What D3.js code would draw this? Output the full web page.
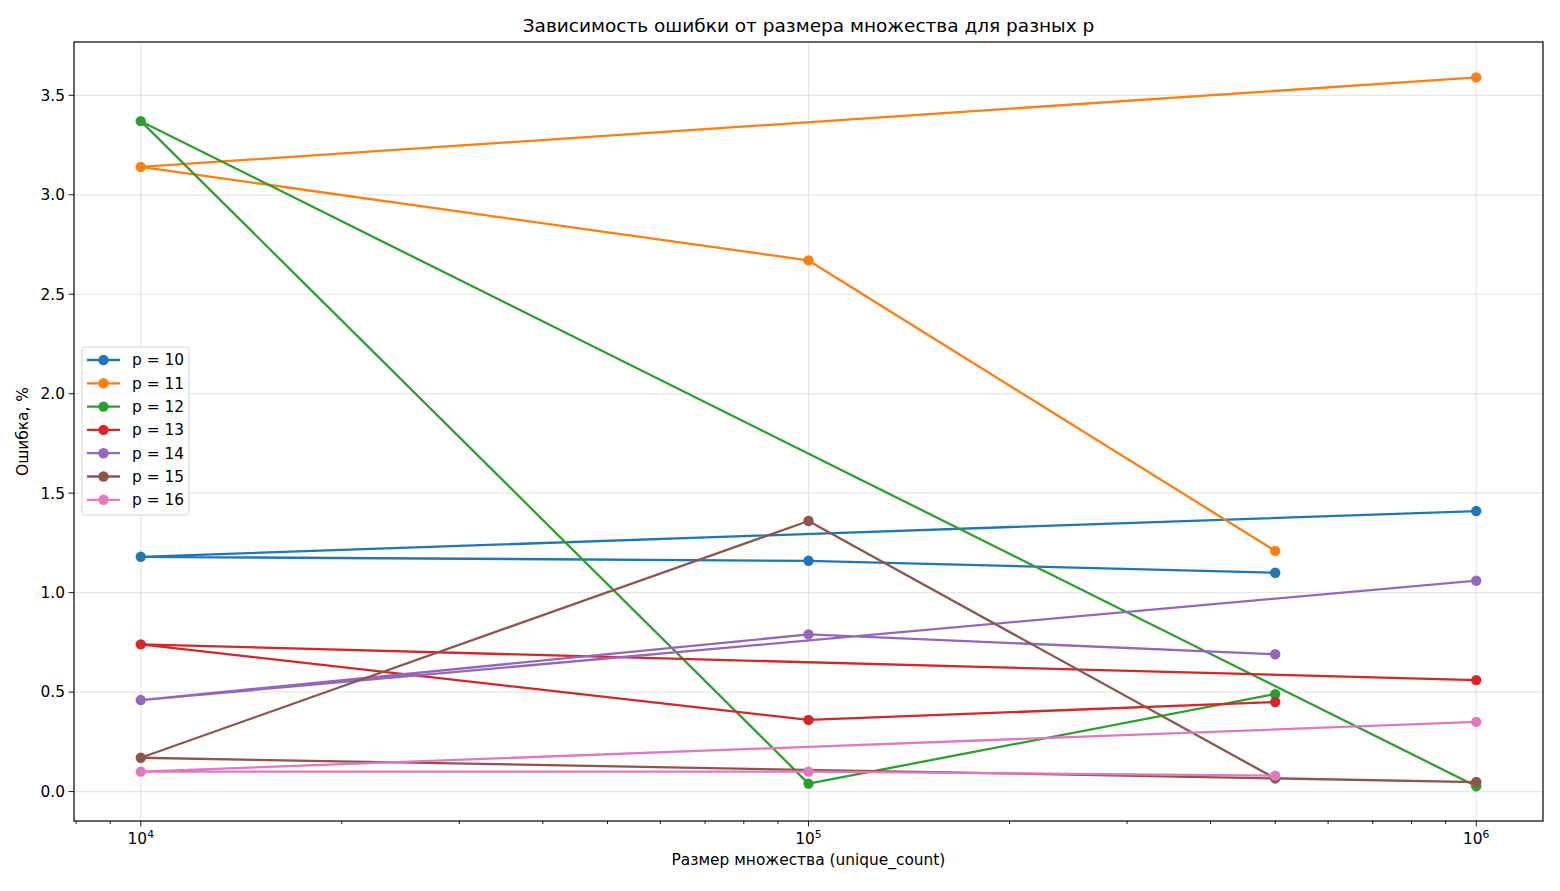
<!DOCTYPE html>
<html>
<head>
<meta charset="utf-8">
<script src="https://cdn.jsdelivr.net/npm/d3@7"></script>
<style>
  body { margin: 0; background: #fff; }
  text { font-family: "DejaVu Sans", sans-serif; fill: #000; }
</style>
</head>
<body>
<script>
'use strict';

// sizes in the order they were measured
var sizes = [1e6, 1e4, 1e5, 5e5];
var pValues = [10, 11, 12, 13, 14, 15, 16];
var errP10 = [1.41, 1.18, 1.16, 1.10];
var errP11 = [3.59, 3.14, 2.67, 1.21];
var errP12 = [0.027, 3.37, 0.04, 0.49];
var errP13 = [0.56, 0.74, 0.36, 0.45];
var errP14 = [1.06, 0.46, 0.79, 0.69];
var errP15 = [0.048, 0.17, 1.36, 0.066];
var errP16 = [0.35, 0.10, 0.10, 0.08];
var colors = ['#1f77b4', '#ff7f0e', '#2ca02c', '#d62728', '#9467bd', '#8c564b', '#e377c2'];
var yTicks = [0, 0.5, 1, 1.5, 2, 2.5, 3, 3.5];

var series = [errP10, errP11, errP12, errP13, errP14, errP15, errP16].map(function (vals, i) {
    return {
        p: pValues[i],
        color: colors[i],
        points: vals.map(function (v, j) { return { x: sizes[j], y: v }; })
    };
});

var width = 1560;
var height = 891;
var margin = { left: 74, right: 17, top: 42, bottom: 70 };
var fs = 15.4;
var lw = 2.3;
var mr = 5.2;

var svg = d3.select('body')
    .append('svg')
    .attr('width', width)
    .attr('height', height)
    ;

var x = d3.scaleLog()
    .domain([Math.pow(10, 3.9), Math.pow(10, 6.1)])
    .range([margin.left, width - margin.right])
    ;

var y = d3.scaleLinear()
    .domain([-0.148, 3.768])
    .range([height - margin.bottom, margin.top])
    ;

var plotW = width - margin.left - margin.right;
var plotH = height - margin.top - margin.bottom;

// grid
var majorX = [1e4, 1e5, 1e6];
svg.append('g').selectAll('line')
    .data(majorX)
    .enter().append('line')
    .attr('x1', x).attr('x2', x)
    .attr('y1', margin.top).attr('y2', height - margin.bottom)
    .attr('stroke', '#b0b0b0').attr('stroke-opacity', 0.3).attr('stroke-width', 1.2)
    ;
svg.append('g').selectAll('line')
    .data(yTicks)
    .enter().append('line')
    .attr('y1', y).attr('y2', y)
    .attr('x1', margin.left).attr('x2', width - margin.right)
    .attr('stroke', '#b0b0b0').attr('stroke-opacity', 0.3).attr('stroke-width', 1.2)
    ;

// series
var line = d3.line()
    .x(function (d) { return x(d.x); })
    .y(function (d) { return y(d.y); })
    ;

series.forEach(function (s) {
    var g = svg.append('g');
    g.append('path')
        .datum(s.points)
        .attr('d', line)
        .attr('fill', 'none')
        .attr('stroke', s.color)
        .attr('stroke-width', lw)
        .attr('stroke-linejoin', 'round')
        .attr('stroke-linecap', 'square')
        ;
    g.selectAll('circle')
        .data(s.points)
        .enter().append('circle')
        .attr('cx', function (d) { return x(d.x); })
        .attr('cy', function (d) { return y(d.y); })
        .attr('r', mr)
        .attr('fill', s.color)
        ;
});

// axes
var minorX = [];
[1e3, 1e4, 1e5, 1e6].forEach(function (b) {
    for (var k = 2; k <= 9; k++) {
        var v = b * k;
        if (v > x.domain()[0] && v < x.domain()[1]) minorX.push(v);
    }
});

var xAxis = svg.append('g')
    .attr('transform', 'translate(0,' + (height - margin.bottom) + ')')
    ;
xAxis.selectAll('line.minor')
    .data(minorX)
    .enter().append('line')
    .attr('class', 'minor')
    .attr('x1', x).attr('x2', x)
    .attr('y1', 0).attr('y2', 3.1)
    .attr('stroke', '#000').attr('stroke-width', 0.9)
    ;
xAxis.selectAll('line.major')
    .data(majorX)
    .enter().append('line')
    .attr('class', 'major')
    .attr('x1', x).attr('x2', x)
    .attr('y1', 0).attr('y2', 5.4)
    .attr('stroke', '#000').attr('stroke-width', 0.9)
    ;
var xl = xAxis.selectAll('text')
    .data(majorX)
    .enter().append('text')
    .attr('x', function (d) { return x(d); })
    .attr('y', 23)
    .attr('text-anchor', 'middle')
    .style('font-size', fs + 'px')
    ;
xl.append('tspan').text('10');
xl.append('tspan')
    .attr('dy', -6.5)
    .style('font-size', (fs * 0.7) + 'px')
    .text(function (d) { return Math.round(Math.log10(d)); })
    ;

var yAxis = svg.append('g')
    .attr('transform', 'translate(' + margin.left + ',0)')
    ;
yAxis.selectAll('line')
    .data(yTicks)
    .enter().append('line')
    .attr('x1', -5.4).attr('x2', 0)
    .attr('y1', y).attr('y2', y)
    .attr('stroke', '#000').attr('stroke-width', 0.9)
    ;
yAxis.selectAll('text')
    .data(yTicks)
    .enter().append('text')
    .attr('x', -9)
    .attr('y', y)
    .attr('dy', '0.35em')
    .attr('text-anchor', 'end')
    .style('font-size', fs + 'px')
    .text(d3.format('.1f'))
    ;

// frame
svg.append('rect')
    .attr('x', margin.left)
    .attr('y', margin.top)
    .attr('width', plotW)
    .attr('height', plotH)
    .attr('fill', 'none')
    .attr('stroke', '#000')
    .attr('stroke-width', 1.2)
    ;

// title & labels
svg.append('text')
    .attr('x', margin.left + plotW / 2)
    .attr('y', 32)
    .attr('text-anchor', 'middle')
    .style('font-size', '18.5px')
    .text('Зависимость ошибки от размера множества для разных p')
    ;
svg.append('text')
    .attr('x', margin.left + plotW / 2)
    .attr('y', 865)
    .attr('text-anchor', 'middle')
    .style('font-size', fs + 'px')
    .text('Размер множества (unique_count)')
    ;
svg.append('text')
    .attr('transform', 'translate(28,' + (margin.top + plotH / 2) + ') rotate(-90)')
    .attr('text-anchor', 'middle')
    .style('font-size', fs + 'px')
    .text('Ошибка, %')
    ;

// legend
var legend = svg.append('g')
    .attr('transform', 'translate(82,347)')
    ;
legend.append('rect')
    .attr('width', 107)
    .attr('height', 168)
    .attr('rx', 3)
    .attr('fill', '#fff')
    .attr('fill-opacity', 0.8)
    .attr('stroke', '#d5d5d5')
    .attr('stroke-width', 1)
    ;
var items = legend.selectAll('g.item')
    .data(series)
    .enter().append('g')
    .attr('class', 'item')
    .attr('transform', function (d, i) { return 'translate(0,' + (13 + i * 23.3) + ')'; })
    ;
items.append('line')
    .attr('x1', 5).attr('x2', 38)
    .attr('stroke', function (d) { return d.color; })
    .attr('stroke-width', lw)
    ;
items.append('circle')
    .attr('cx', 21.5)
    .attr('r', mr)
    .attr('fill', function (d) { return d.color; })
    ;
items.append('text')
    .attr('x', 50)
    .attr('dy', '0.35em')
    .style('font-size', fs + 'px')
    .text(function (d) { return 'p = ' + d.p; })
    ;
</script>
</body>
</html>
